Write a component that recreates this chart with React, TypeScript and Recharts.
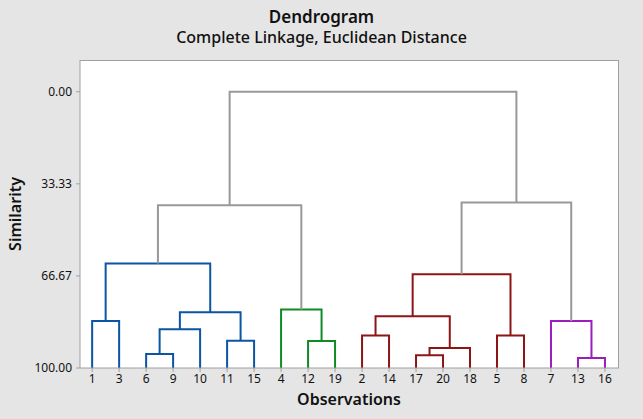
import { LineChart, Line, XAxis, YAxis } from "recharts";

// leaf order along the x axis
const observations = [1, 3, 6, 9, 10, 11, 15, 4, 12, 19, 2, 14, 17, 20, 18, 5, 8, 7, 13, 16];

// merge i joins mergeLeft[i] and mergeRight[i]; "o<n>" = observation n, "m<k>" = k-th merge
const mergeLeft = ["o6", "m1", "o11", "m2", "o1", "m5", "o12", "o4", "m6", "o17", "m10", "o2", "m12", "o5", "m13", "o13", "o7", "m15", "m9"];
const mergeRight = ["o9", "o10", "o15", "m3", "o3", "m4", "o19", "m7", "m8", "o20", "o18", "o14", "m11", "o8", "m14", "o16", "m16", "m17", "m18"];
const mergeSimilarity = [94.9, 86.0, 90.1, 79.8, 83.0, 62.2, 90.2, 78.8, 41.1, 95.4, 92.8, 88.2, 81.3, 88.2, 66.1, 96.4, 83.0, 40.1, 0.0];
// final cluster each merge belongs to (0 = above the cut)
const mergeCluster = [1, 1, 1, 1, 1, 1, 2, 2, 0, 3, 3, 3, 3, 3, 3, 4, 4, 0, 0];

const similarityTicks = [0, 33.33, 66.67, 100];

const clusterColors = ["#999999", "#0B55A4", "#0E8A26", "#8E1515", "#9A1DBE"];
const axisGray = "#A0A0A0";
const font = "'Noto Sans', 'Open Sans', sans-serif";

type Node = { x: number; s: number };

function buildLinks() {
  const nodes: Record<string, Node> = {};
  observations.forEach((obs, i) => {
    nodes["o" + obs] = { x: i, s: 100 };
  });
  return mergeLeft.map((left, i) => {
    const a = nodes[left];
    const b = nodes[mergeRight[i]];
    const s = mergeSimilarity[i];
    nodes["m" + (i + 1)] = { x: (a.x + b.x) / 2, s };
    return {
      id: "m" + (i + 1),
      color: clusterColors[mergeCluster[i]],
      points: [
        { x: a.x, y: a.s },
        { x: a.x, y: s },
        { x: b.x, y: s },
        { x: b.x, y: b.s }
      ]
    };
  });
}

export default function App() {
  const links = buildLinks();
  const tickStyle = { fontSize: 12, fill: "#111", fontFamily: font };

  return (
    <div style={{ position: "absolute", left: 0, top: 0, width: 643, height: 419, background: "#E5E5E5", fontFamily: font }}>
      <div style={{ position: "absolute", left: 0, width: 643, top: 5, textAlign: "center", fontSize: 17, fontWeight: 600, color: "#111" }}>
        Dendrogram
      </div>
      <div style={{ position: "absolute", left: 0, width: 643, top: 26, textAlign: "center", fontSize: 16, fontWeight: 500, color: "#111" }}>
        Complete Linkage, Euclidean Distance
      </div>
      <div style={{ position: "absolute", left: 80, top: 60, width: 538, height: 307, background: "#fff", borderTop: `1px solid ${axisGray}`, borderRight: `1px solid ${axisGray}` }} />
      <div style={{ position: "absolute", left: 80 + 269, top: 388, transform: "translateX(-50%)", fontSize: 16, fontWeight: 600, color: "#111", whiteSpace: "nowrap" }}>
        Observations
      </div>
      <div style={{ position: "absolute", left: 15, top: 214, transform: "translate(-50%, -50%) rotate(-90deg)", fontSize: 16, fontWeight: 600, color: "#111", whiteSpace: "nowrap" }}>
        Similarity
      </div>
      <div style={{ position: "absolute", left: 0, top: 0 }}>
        <LineChart width={643} height={419} margin={{ top: 60, right: 24, bottom: 21, left: 0 }}>
          <XAxis
            dataKey="x"
            type="number"
            domain={[-0.45, 19.52]}
            allowDataOverflow
            ticks={observations.map((_, i) => i)}
            interval={0}
            tickFormatter={(i: number) => String(observations[i])}
            tick={tickStyle}
            tickSize={4}
            tickMargin={2}
            height={30}
            stroke={axisGray}
          />
          <YAxis
            type="number"
            reversed
            domain={[-11.5, 100]}
            allowDataOverflow
            ticks={similarityTicks}
            interval={0}
            tickFormatter={(v: number) => v.toFixed(2)}
            tick={tickStyle}
            tickSize={4}
            tickMargin={4}
            width={80}
            stroke={axisGray}
          />
          {links.map((link) => (
            <Line
              key={link.id}
              data={link.points}
              dataKey="y"
              type="linear"
              stroke={link.color}
              strokeWidth={2}
              dot={false}
              activeDot={false}
              isAnimationActive={false}
            />
          ))}
        </LineChart>
      </div>
    </div>
  );
}
